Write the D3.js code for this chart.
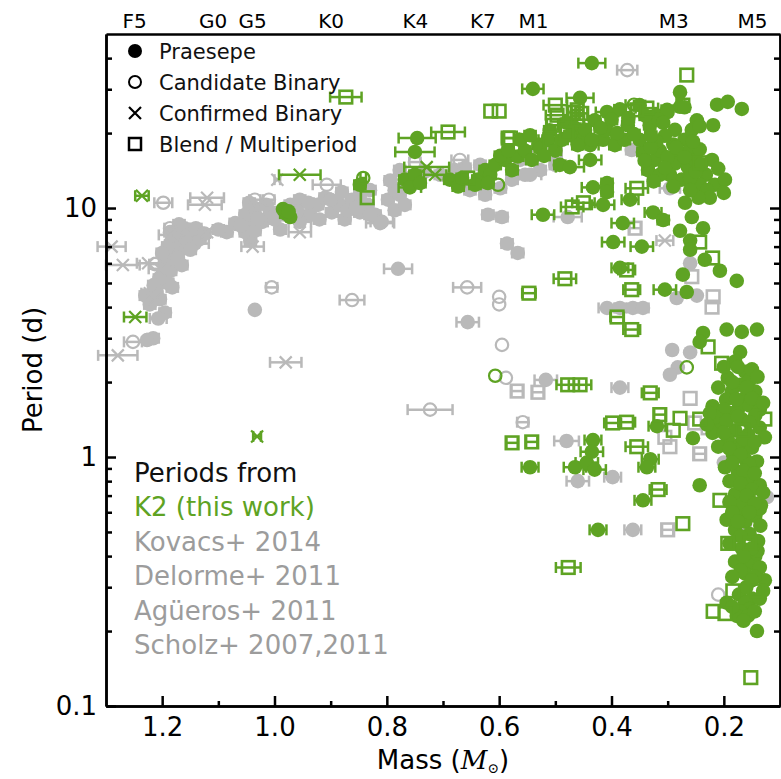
<!DOCTYPE html>
<html>
<head>
<meta charset="utf-8">
<script src="https://cdn.jsdelivr.net/npm/d3@7"></script>
<style>
  body { margin: 0; background: #fff; }
  text { font-family: "DejaVu Sans", sans-serif; }
</style>
</head>
<body>
<div id="chart"></div>
<script>
// Data: [mass (Msun), period (d), mass error]
const grayFilled = [
  [1.216, 3.0, 0.01], [1.227, 2.95, 0.005], [1.204, 4.3, 0.01], [1.222, 4.1, 0.01], [1.23, 4.45, 0.01],
  [1.195, 3.8, 0.01], [1.21, 4.6, 0.01], [1.182, 4.8, 0.01], [1.207, 3.6, 0.015], [1.185, 5.6, 0.01],
  [1.177, 6.3, 0.01], [1.195, 6.1, 0.01], [1.168, 6.9, 0.01], [1.177, 7.4, 0.01], [1.163, 7.7, 0.01],
  [1.154, 7.3, 0.01], [1.147, 8.0, 0.02], [1.16, 8.3, 0.01], [1.186, 8.0, 0.01], [1.142, 7.2, 0.025],
  [1.172, 6.3, 0.01], [1.133, 7.5, 0.01], [1.195, 5.4, 0.01], [1.085, 8.0, 0.01], [1.035, 3.9, 0],
  [1.19, 7.0, 0.01], [1.2, 6.6, 0.01], [1.18, 7.8, 0.01], [1.17, 8.6, 0.01], [1.165, 5.9, 0.01],
  [1.19, 5.0, 0.01], [1.15, 6.8, 0.01], [1.205, 5.2, 0.01], [1.215, 4.9, 0.01], [1.14, 8.3, 0.01],
  [1.125, 7.9, 0.01], [1.1, 8.2, 0.01], [1.07, 8.7, 0.01], [1.045, 9.0, 0.01],
  [1.052, 9.4, 0.01], [1.035, 10.0, 0.01], [1.022, 8.8, 0.01], [1.008, 9.7, 0.01], [0.99, 8.2, 0.01],
  [0.972, 10.3, 0.01], [0.955, 10.8, 0.01], [0.937, 9.4, 0.01], [0.923, 10.3, 0.01], [0.91, 11.0, 0.01],
  [0.898, 9.6, 0.01], [0.884, 10.3, 0.01], [0.875, 9.0, 0.01], [0.862, 10.8, 0.01], [0.848, 9.6, 0.01],
  [0.834, 10.3, 0.01], [0.821, 9.4, 0.01], [0.809, 8.8, 0.02], [0.798, 10.8, 0.01], [0.786, 9.8, 0.01],
  [0.777, 11.3, 0.01], [0.768, 10.3, 0.01], [0.786, 11.8, 0.01], [0.83, 11.8, 0.01], [0.848, 11.3, 0.01],
  [0.88, 11.6, 0.01], [1.043, 7.4, 0.01], [1.052, 8.0, 0.01], [1.035, 8.1, 0.01], [1.06, 8.5, 0.01],
  [0.981, 9.4, 0.01], [0.955, 8.8, 0.02], [1.03, 9.1, 0.01], [0.812, 8.7, 0.025], [0.83, 9.4, 0.01],
  [1.0, 9.0, 0.01], [0.96, 9.7, 0.01], [0.94, 10.5, 0.01], [0.92, 9.0, 0.01], [0.9, 10.8, 0.01],
  [0.87, 9.8, 0.01], [0.855, 10.0, 0.01], [1.015, 10.3, 0.01], [1.045, 10.5, 0.01],
  [0.794, 12.9, 0.01], [0.759, 13.2, 0.01], [0.732, 14.0, 0.01], [0.705, 13.6, 0.01], [0.679, 14.2, 0.01],
  [0.661, 14.5, 0.01], [0.634, 14.9, 0.01], [0.777, 14.2, 0.01], [0.652, 11.8, 0.01], [0.625, 11.3, 0.01],
  [0.598, 12.0, 0.01], [0.577, 13.0, 0.01], [0.554, 13.6, 0.01], [0.527, 14.2, 0.01], [0.5, 14.9, 0.01],
  [0.563, 15.6, 0.01], [0.545, 13.6, 0.02], [0.62, 9.4, 0.01], [0.595, 9.2, 0.01], [0.586, 7.2, 0.01],
  [0.567, 6.6, 0.01], [0.78, 5.7, 0.025], [0.656, 3.48, 0.02], [0.517, 2.04, 0.02], [0.48, 1.16, 0.022],
  [0.46, 0.80, 0.02], [0.398, 0.83, 0.015], [0.362, 0.51, 0.015], [0.385, 1.9, 0.015], [0.364, 17.1, 0.01],
  [0.45, 18.5, 0.01], [0.296, 12.0, 0.018], [0.478, 9.2, 0.025], [0.26, 6.0, 0], [0.284, 4.35, 0],
  [0.248, 4.45, 0], [0.408, 3.97, 0.015], [0.385, 3.97, 0.01], [0.362, 3.97, 0.01], [0.344, 3.97, 0.01],
  [0.292, 2.69, 0], [0.26, 2.63, 0], [0.282, 2.29, 0], [0.296, 2.14, 0], [0.159, 1.65, 0],
  [0.162, 0.54, 0], [0.2, 0.95, 0], [0.123, 0.69, 0]
];
const grayOpen = [
  [1.198, 10.5, 0.016], [1.252, 2.9, 0.016], [1.186, 8.3, 0.01], [1.213, 5.95, 0.01], [1.005, 4.8, 0.01],
  [0.907, 12.4, 0.025], [1.035, 10.8, 0.01], [1.01, 10.8, 0.01], [0.75, 15.3, 0.01], [0.67, 15.6, 0.015],
  [0.372, 35.8, 0.018], [0.657, 4.8, 0.025], [0.862, 4.27, 0.022], [0.6, 4.4, 0], [0.6, 4.1, 0],
  [0.595, 2.82, 0], [0.723, 1.55, 0.04], [0.588, 2.08, 0], [0.558, 1.38, 0.01], [0.21, 0.28, 0]
];
const grayCross = [
  [1.27, 5.9, 0.03], [1.225, 6.0, 0.02], [1.204, 5.7, 0.02], [1.29, 7.0, 0.025], [1.186, 7.8, 0.02],
  [1.213, 4.3, 0.015], [1.222, 4.55, 0.015], [1.279, 2.56, 0.035], [1.12, 11.0, 0.03], [1.124, 10.3, 0.03],
  [1.12, 8.0, 0.033], [0.995, 13.0, 0.005], [1.039, 7.0, 0.02], [0.955, 8.0, 0.02], [0.693, 13.8, 0.01],
  [0.305, 7.4, 0.015], [0.98, 2.4, 0.028]
];
const graySquare = [
  [0.50, 16.8, 0.01], [0.553, 16.0, 0.01], [0.568, 1.84, 0.01], [0.531, 1.82, 0.01], [0.358, 8.3, 0.01],
  [0.257, 5.3, 0], [0.219, 4.4, 0], [0.221, 4.0, 0], [0.26, 1.72, 0], [0.305, 1.2, 0],
  [0.296, 1.1, 0], [0.3, 0.51, 0.01], [0.252, 1.37, 0], [0.228, 1.31, 0], [0.243, 1.03, 0.01]
];

const greenFilled = [
  [0.435, 38.2, 0.024], [0.540, 30.1, 0.019], [0.278, 29.2, 0], [0.456, 27.7, 0.024], [0.408, 24.3, 0.02],
  [0.301, 24.8, 0.01], [0.278, 25.5, 0.005], [0.270, 25.4, 0], [0.212, 26.0, 0], [0.193, 26.7, 0],
  [0.168, 25.0, 0], [0.219, 21.5, 0], [0.248, 22.5, 0], [0.385, 24.9, 0.01], [0.350, 25.9, 0.01],
  [0.320, 23.6, 0.01], [0.371, 21.5, 0.01], [0.400, 22.6, 0.01], [0.332, 21.5, 0.01], [0.300, 24.3, 0],
  [0.317, 22.6, 0], [0.308, 22.0, 0], [0.287, 20.6, 0], [0.270, 18.8, 0], [0.278, 16.6, 0],
  [0.260, 17.2, 0], [0.287, 15.1, 0], [0.264, 14.6, 0], [0.275, 13.0, 0], [0.296, 13.6, 0],
  [0.251, 15.6, 0], [0.257, 20.6, 0], [0.243, 21.3, 0], [0.344, 16.8, 0.01], [0.323, 15.6, 0.01],
  [0.335, 14.2, 0.01], [0.314, 17.0, 0], [0.314, 13.6, 0.01], [0.341, 15.5, 0], [0.438, 17.9, 0.015],
  [0.415, 18.8, 0.015], [0.394, 17.9, 0.01], [0.456, 18.8, 0.015], [0.377, 18.8, 0.01], [0.350, 18.8, 0.018],
  [0.243, 17.2, 0], [0.221, 15.6, 0], [0.232, 13.6, 0], [0.210, 14.4, 0], [0.243, 12.4, 0],
  [0.216, 12.4, 0], [0.198, 13.0, 0],
  [0.29, 18.0, 0], [0.3, 16.0, 0], [0.285, 17.5, 0], [0.27, 16.0, 0], [0.255, 18.5, 0],
  [0.305, 19.5, 0], [0.32, 18.5, 0], [0.33, 17.5, 0], [0.305, 14.5, 0], [0.325, 12.8, 0.01],
  [0.29, 12.2, 0], [0.26, 13.2, 0], [0.25, 14.0, 0], [0.24, 15.0, 0], [0.23, 11.8, 0],
  [0.225, 11.0, 0], [0.2, 11.5, 0], [0.245, 11.0, 0], [0.26, 11.8, 0],
  [0.48, 22.0, 0.01], [0.43, 22.5, 0.01], [0.41, 20.5, 0.01], [0.39, 20.0, 0.01], [0.36, 19.8, 0.01],
  [0.37, 23.0, 0.01], [0.34, 23.5, 0.01], [0.33, 19.5, 0.01], [0.465, 21.0, 0.01], [0.51, 20.5, 0.01],
  [0.53, 18.0, 0.01],
  [0.746, 19.1, 0.033], [0.750, 16.8, 0.035], [0.848, 12.4, 0.01], [0.768, 13.0, 0.01], [0.750, 13.6, 0.01],
  [0.759, 12.1, 0.02], [0.741, 12.6, 0.01], [0.688, 13.0, 0.01], [0.673, 12.2, 0.01], [0.666, 13.2, 0.01],
  [0.638, 13.0, 0.01], [0.625, 14.2, 0.01], [0.616, 13.6, 0.01], [0.607, 14.9, 0.01], [0.590, 15.6, 0.01],
  [0.577, 14.2, 0.01], [0.567, 16.1, 0.01], [0.554, 17.0, 0.01], [0.542, 15.6, 0.01], [0.527, 17.4, 0.01],
  [0.513, 18.8, 0.01], [0.500, 17.0, 0.01], [0.488, 18.8, 0.01], [0.474, 19.6, 0.01], [0.460, 17.9, 0.01],
  [0.447, 20.6, 0.01], [0.435, 18.8, 0.01], [0.420, 21.0, 0.01], [0.563, 18.8, 0.01], [0.545, 19.6, 0.01],
  [0.598, 16.2, 0.01], [0.643, 12.4, 0.01], [0.620, 12.6, 0.01], [0.584, 17.0, 0.01], [0.520, 16.2, 0.01],
  [0.492, 14.9, 0.01], [0.474, 14.6, 0.025], [0.438, 15.6, 0.02], [0.433, 12.1, 0.02], [0.408, 12.6, 0.01],
  [0.408, 11.6, 0.01], [0.367, 10.8, 0.015],
  [0.980, 9.5, 0.01], [0.985, 9.9, 0.005], [0.972, 9.2, 0.005], [0.975, 9.7, 0],
  [0.522, 9.4, 0.02], [0.415, 10.3, 0.02], [0.380, 8.7, 0.02], [0.397, 7.3, 0.02], [0.346, 7.0, 0.02],
  [0.326, 9.6, 0.015], [0.308, 8.95, 0.01], [0.269, 10.5, 0], [0.257, 9.2, 0], [0.237, 8.3, 0],
  [0.278, 8.1, 0], [0.260, 7.4, 0], [0.260, 6.8, 0], [0.234, 6.2, 0], [0.207, 5.6, 0],
  [0.177, 5.1, 0], [0.273, 5.4, 0], [0.266, 4.6, 0], [0.305, 4.7, 0.02], [0.385, 5.75, 0.015],
  [0.237, 3.15, 0], [0.195, 3.25, 0], [0.168, 3.18, 0], [0.141, 3.25, 0], [0.171, 2.64, 0],
  [0.243, 2.9, 0],
  [0.433, 1.17, 0.015], [0.545, 0.91, 0.015], [0.465, 0.91, 0.02], [0.444, 0.95, 0.02], [0.430, 0.89, 0.02],
  [0.435, 1.05, 0.02], [0.424, 0.51, 0.015], [0.331, 0.98, 0.015], [0.337, 0.91, 0.015], [0.319, 1.33, 0.015],
  [0.255, 1.19, 0], [0.344, 0.67, 0.015], [0.243, 0.77, 0],
  [0.18, 2.42, 0], [0.162, 2.2, 0], [0.193, 2.08, 0], [0.171, 1.95, 0], [0.154, 2.04, 0],
  [0.186, 1.83, 0], [0.162, 1.73, 0], [0.144, 1.83, 0], [0.196, 1.7, 0], [0.173, 1.58, 0],
  [0.154, 1.61, 0], [0.136, 1.55, 0], [0.189, 1.5, 0], [0.168, 1.42, 0], [0.144, 1.47, 0],
  [0.207, 1.35, 0], [0.18, 1.28, 0], [0.157, 1.23, 0], [0.136, 1.31, 0], [0.193, 1.18, 0],
  [0.171, 1.13, 0], [0.15, 1.09, 0], [0.127, 1.2, 0], [0.184, 1.03, 0], [0.162, 0.98, 0],
  [0.141, 0.96, 0], [0.198, 0.91, 0], [0.175, 0.87, 0], [0.154, 0.83, 0], [0.136, 0.77, 0],
  [0.166, 0.75, 0], [0.18, 0.71, 0], [0.154, 0.67, 0], [0.134, 0.64, 0], [0.171, 0.61, 0],
  [0.144, 0.58, 0], [0.162, 0.55, 0], [0.18, 0.51, 0], [0.154, 0.49, 0], [0.139, 0.46, 0],
  [0.168, 0.43, 0], [0.144, 0.4, 0], [0.18, 0.38, 0], [0.157, 0.37, 0], [0.136, 0.36, 0],
  [0.162, 0.34, 0], [0.127, 0.32, 0], [0.173, 0.28, 0], [0.15, 0.27, 0], [0.162, 0.26, 0],
  [0.136, 0.27, 0], [0.154, 0.245, 0], [0.171, 0.24, 0], [0.141, 0.2, 0], [0.195, 0.56, 0],
  [0.166, 0.65, 0], [0.136, 0.62, 0], [0.14, 0.42, 0], [0.195, 0.26, 0], [0.177, 0.23, 0],
  [0.157, 0.23, 0],
  [0.2, 2.3, 0], [0.175, 2.3, 0], [0.15, 2.25, 0], [0.21, 1.9, 0], [0.185, 2.0, 0],
  [0.16, 1.9, 0], [0.14, 2.1, 0], [0.22, 1.6, 0], [0.2, 1.55, 0], [0.178, 1.7, 0],
  [0.15, 1.72, 0], [0.13, 1.65, 0], [0.215, 1.45, 0], [0.195, 1.4, 0], [0.175, 1.45, 0],
  [0.155, 1.38, 0], [0.22, 1.25, 0], [0.2, 1.25, 0], [0.165, 1.18, 0], [0.145, 1.15, 0],
  [0.21, 1.1, 0], [0.19, 1.08, 0], [0.17, 1.02, 0], [0.155, 0.93, 0], [0.185, 0.95, 0],
  [0.165, 0.88, 0], [0.145, 0.86, 0], [0.19, 0.8, 0], [0.17, 0.78, 0], [0.15, 0.74, 0],
  [0.13, 0.72, 0], [0.19, 0.66, 0], [0.16, 0.7, 0], [0.145, 0.65, 0], [0.185, 0.6, 0],
  [0.155, 0.6, 0], [0.175, 0.55, 0], [0.135, 0.53, 0], [0.17, 0.48, 0], [0.19, 0.45, 0],
  [0.15, 0.43, 0], [0.165, 0.4, 0], [0.17, 0.35, 0], [0.185, 0.33, 0], [0.145, 0.33, 0],
  [0.16, 0.3, 0], [0.15, 0.32, 0], [0.13, 0.29, 0], [0.185, 0.25, 0], [0.145, 0.24, 0],
  [0.165, 0.22, 0], [0.225, 1.5, 0], [0.23, 1.35, 0]
];
const greenOpen = [
  [0.360, 26.0, 0.015], [0.842, 13.2, 0.005], [0.602, 12.4, 0], [0.607, 2.12, 0], [0.266, 2.29, 0]
];
const greenCross = [
  [1.236, 11.2, 0.012], [1.248, 3.65, 0.02], [0.955, 13.6, 0.037], [0.729, 14.6, 0.04],
  [0.714, 13.6, 0.02], [1.031, 1.21, 0.007]
];
const greenSquare = [
  [0.266, 34.2, 0], [0.615, 24.5, 0], [0.600, 24.5, 0], [0.873, 27.9, 0.028], [0.500, 25.9, 0.021],
  [0.497, 23.6, 0.02], [0.461, 24.8, 0.01], [0.460, 22.6, 0.01], [0.337, 25.2, 0.02], [0.355, 24.8, 0.01],
  [0.691, 20.2, 0.03], [0.584, 19.1, 0.01], [0.835, 11.0, 0], [0.656, 13.2, 0], [0.505, 21.5, 0.01],
  [0.480, 20.0, 0.01], [0.453, 24.0, 0.01], [0.580, 19.1, 0.015], [0.468, 24.2, 0.01], [0.510, 18.8, 0.02],
  [0.355, 12.0, 0.02], [0.470, 10.1, 0.02], [0.450, 10.5, 0.02], [0.243, 15.2, 0], [0.273, 25.9, 0],
  [0.243, 7.3, 0], [0.220, 6.3, 0], [0.483, 5.2, 0.02], [0.547, 4.55, 0.012], [0.364, 4.7, 0.015],
  [0.373, 5.64, 0.015], [0.390, 3.65, 0.012], [0.364, 3.25, 0.015], [0.228, 2.77, 0], [0.204, 2.38, 0],
  [0.478, 1.95, 0.02], [0.456, 1.95, 0.02], [0.331, 1.81, 0.015], [0.577, 1.14, 0.01], [0.542, 1.15, 0.01],
  [0.398, 1.37, 0.015], [0.373, 1.38, 0.015], [0.314, 1.48, 0.01], [0.278, 1.43, 0], [0.243, 1.42, 0],
  [0.290, 1.28, 0], [0.355, 1.10, 0.02], [0.317, 0.74, 0.015], [0.207, 0.67, 0], [0.273, 0.54, 0],
  [0.477, 0.36, 0.022], [0.219, 0.24, 0], [0.198, 0.235, 0], [0.193, 0.45, 0], [0.154, 0.45, 0],
  [0.184, 0.29, 0], [0.141, 0.29, 0], [0.166, 1.28, 0], [0.127, 1.42, 0], [0.152, 0.13, 0]
];

const spTypes = ["F5", "G0", "G5", "K0", "K4", "K7", "M1", "M3", "M5"];
const spMass = [1.25, 1.11, 1.04, 0.90, 0.75, 0.63, 0.54, 0.29, 0.15];

const massMajor = [1.2, 1.0, 0.8, 0.6, 0.4, 0.2];
const massMinor = [1.1, 0.9, 0.7, 0.5, 0.3];
const periodMajor = [0.1, 1, 10];
const periodMinor = [0.2, 0.3, 0.4, 0.5, 0.6, 0.7, 0.8, 0.9, 2, 3, 4, 5, 6, 7, 8, 9, 20, 30, 40];

const legendLabels = ["Praesepe", "Candidate Binary", "Confirmed Binary", "Blend / Multiperiod"];
const sourceLines = ["Periods from", "K2 (this work)", "Kovacs+ 2014", "Delorme+ 2011", "Agüeros+ 2011", "Scholz+ 2007,2011"];

const green = "#5ea323";
const gray = "#b9b9b9";

const dims = { width: 781, height: 779, left: 106, right: 780, top: 34, bottom: 706 };

const svg = d3.select("#chart").append("svg")
  .attr("width", dims.width)
  .attr("height", dims.height);

const x = d3.scaleLinear().domain([1.3, 0.1]).range([dims.left, dims.right]);
const y = d3.scaleLog().domain([0.1, 50]).range([dims.bottom, dims.top]);

const plot = svg.append("g");

function errbars(data, color) {
  const g = plot.append("g").attr("stroke", color).attr("stroke-width", 2.5).attr("fill", "none");
  const d = data.filter(p => p[2] > 0);
  g.selectAll(null).data(d).join("line")
    .attr("x1", p => x(p[0] + p[2])).attr("x2", p => x(p[0] - p[2]))
    .attr("y1", p => y(p[1])).attr("y2", p => y(p[1]));
  [1, -1].forEach(s => {
    g.selectAll(null).data(d).join("line")
      .attr("x1", p => x(p[0] + s * p[2])).attr("x2", p => x(p[0] + s * p[2]))
      .attr("y1", p => y(p[1]) - 5.5).attr("y2", p => y(p[1]) + 5.5);
  });
}

function markers(g, data, kind, color) {
  if (kind === "filled") {
    g.selectAll(null).data(data).join("circle")
      .attr("cx", p => x(p[0])).attr("cy", p => y(p[1])).attr("r", 7.3)
      .attr("fill", color);
  } else if (kind === "open") {
    g.selectAll(null).data(data).join("circle")
      .attr("cx", p => x(p[0])).attr("cy", p => y(p[1])).attr("r", 6.2)
      .attr("fill", "none").attr("stroke", color).attr("stroke-width", 2.2);
  } else if (kind === "square") {
    g.selectAll(null).data(data).join("rect")
      .attr("x", p => x(p[0]) - 6.3).attr("y", p => y(p[1]) - 6.3)
      .attr("width", 12.6).attr("height", 12.6)
      .attr("fill", "none").attr("stroke", color).attr("stroke-width", 2.6);
  } else {
    g.selectAll(null).data(data).join("path")
      .attr("d", p => {
        const cx = x(p[0]), cy = y(p[1]);
        return `M${cx - 6},${cy - 6}L${cx + 6},${cy + 6}M${cx - 6},${cy + 6}L${cx + 6},${cy - 6}`;
      })
      .attr("fill", "none").attr("stroke", color).attr("stroke-width", 2.2);
  }
}

// literature periods first, K2 on top
const graySets = [[grayFilled, "filled"], [grayOpen, "open"], [grayCross, "cross"], [graySquare, "square"]];
graySets.forEach(([d]) => errbars(d, gray));
graySets.forEach(([d, k]) => markers(plot.append("g"), d, k, gray));

const greenSets = [[greenFilled, "filled"], [greenOpen, "open"], [greenCross, "cross"], [greenSquare, "square"]];
greenSets.forEach(([d]) => errbars(d, green));
greenSets.forEach(([d, k]) => markers(plot.append("g"), d, k, green));

// Axes
function styleAxis(g) {
  g.selectAll(".domain").attr("stroke", "#000").attr("stroke-width", 2.5);
  g.selectAll(".tick line").attr("stroke", "#000").attr("stroke-width", 2.5);
  g.selectAll("text").attr("fill", "#000").style("font-family", "DejaVu Sans");
}

svg.append("g")
  .attr("transform", `translate(0,${dims.bottom})`)
  .call(d3.axisBottom(x).tickValues(massMinor).tickSize(-5).tickSizeOuter(0).tickFormat(""))
  .call(styleAxis);
svg.append("g")
  .attr("transform", `translate(0,${dims.bottom})`)
  .call(d3.axisBottom(x).tickValues(massMajor).tickSize(-10).tickSizeOuter(0).tickPadding(12)
    .tickFormat(d3.format(".1f")))
  .call(styleAxis)
  .selectAll("text").attr("font-size", 26);

svg.append("g")
  .attr("transform", `translate(${dims.left},0)`)
  .call(d3.axisLeft(y).tickValues(periodMinor).tickSize(-6).tickSizeOuter(0).tickFormat(""))
  .call(styleAxis);
svg.append("g")
  .attr("transform", `translate(${dims.left},0)`)
  .call(d3.axisLeft(y).tickValues(periodMajor).tickSize(-10).tickSizeOuter(0).tickPadding(9)
    .tickFormat(d => d < 1 ? "0.1" : String(d)))
  .call(styleAxis)
  .selectAll("text").attr("font-size", 26);

svg.append("g")
  .attr("transform", `translate(${dims.right},0)`)
  .call(d3.axisRight(y).tickValues(periodMinor).tickSize(-6).tickSizeOuter(0).tickFormat(""))
  .call(styleAxis);
svg.append("g")
  .attr("transform", `translate(${dims.right},0)`)
  .call(d3.axisRight(y).tickValues(periodMajor).tickSize(-10).tickSizeOuter(0).tickFormat(""))
  .call(styleAxis);

svg.append("g")
  .attr("transform", `translate(0,${dims.top})`)
  .call(d3.axisTop(x).tickValues(spMass).tickSize(0).tickSizeOuter(0).tickPadding(6)
    .tickFormat((d, i) => spTypes[i]))
  .call(styleAxis)
  .selectAll("text").attr("font-size", 20);

// Axis titles
svg.append("text")
  .attr("transform", `translate(42,${(dims.top + dims.bottom) / 2}) rotate(-90)`)
  .attr("text-anchor", "middle")
  .attr("font-size", 26)
  .text("Period (d)");

const xl = svg.append("text")
  .attr("x", (dims.left + dims.right) / 2).attr("y", 769)
  .attr("text-anchor", "middle")
  .attr("font-size", 26);
xl.append("tspan").text("Mass (");
xl.append("tspan").attr("font-family", "DejaVu Serif").attr("font-style", "italic").text("M");
xl.append("tspan").attr("font-family", "DejaVu Serif").attr("font-size", 14).attr("dy", 4).text("⊙");
xl.append("tspan").attr("dy", -4).text(")");

// Legend
const leg = svg.append("g");
const legY = d3.scalePoint().domain(legendLabels).range([51, 144]);
const legKinds = ["filled", "open", "cross", "square"];
legendLabels.forEach((lab, i) => {
  const row = leg.append("g").attr("transform", `translate(135,${legY(lab)})`);
  if (legKinds[i] === "filled") row.append("circle").attr("r", 7).attr("fill", "#000");
  if (legKinds[i] === "open") row.append("circle").attr("r", 6).attr("fill", "none").attr("stroke", "#000").attr("stroke-width", 2);
  if (legKinds[i] === "cross") row.append("path").attr("d", "M-6,-6L6,6M-6,6L6,-6").attr("stroke", "#000").attr("stroke-width", 2.2);
  if (legKinds[i] === "square") row.append("rect").attr("x", -6).attr("y", -6).attr("width", 12).attr("height", 12)
    .attr("fill", "none").attr("stroke", "#000").attr("stroke-width", 2.5);
  row.append("text").attr("x", 24).attr("dy", "0.36em").attr("font-size", 21).attr("fill", "#111").text(lab);
});

// Source text block
const srcColors = ["#111", green, "#9c9c9c", "#9c9c9c", "#9c9c9c", "#9c9c9c"];
svg.append("g").selectAll("text").data(sourceLines).join("text")
  .attr("x", 134)
  .attr("y", (d, i) => 482 + i * 34.4)
  .attr("font-size", 26)
  .attr("fill", (d, i) => srcColors[i])
  .text(d => d);
</script>
</body>
</html>
